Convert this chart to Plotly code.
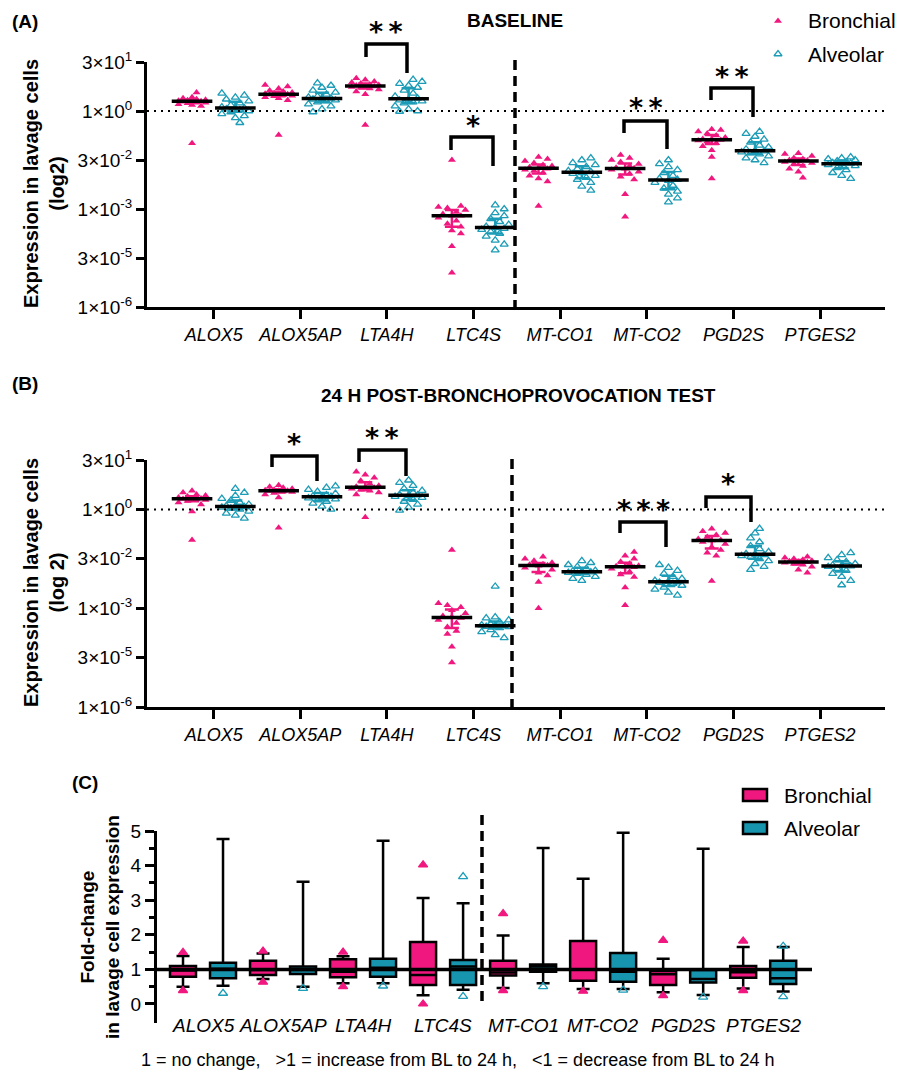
import numpy as np
import plotly.graph_objects as go

PAGE_W, PAGE_H = 904, 1071
OFF = 8  # page body margin in the browser
W, H = PAGE_W - OFF, PAGE_H - OFF
GENES = ["ALOX5", "ALOX5AP", "LTA4H", "LTC4S", "MT-CO1", "MT-CO2", "PGD2S", "PTGES2"]
LOG_TICK_EXP2 = [5, 0, -5, -10, -15, -20]
LOG_TICK_TEXT = ["3×10<sup>1</sup>", "1×10<sup>0</sup>", "3×10<sup>-2</sup>",
                 "1×10<sup>-3</sup>", "3×10<sup>-5</sup>", "1×10<sup>-6</sup>"]

# Expression values, stored as log2 exponents (value = 2**x), one list per gene
A_BRONCHIAL = [
    [-3.3, 0.5, 0.6, 0.7, 0.8, 0.85, 0.9, 0.95, 1.0, 1.0, 1.05, 1.1, 1.15, 1.2, 1.3, 1.4, 1.9],
    [-2.45, 1.1, 1.3, 1.4, 1.5, 1.55, 1.6, 1.65, 1.7, 1.7, 1.75, 1.8, 1.9, 2.0, 2.1, 2.3, 2.5, 2.65],
    [-1.43, 1.7, 2.0, 2.2, 2.3, 2.4, 2.45, 2.5, 2.55, 2.6, 2.65, 2.7, 2.8, 2.9, 3.0, 3.2, 3.35],
    [-16.5, -13.8, -12.5, -12.2, -11.8, -11.5, -11.2, -10.9, -10.7, -10.7, -10.5, -10.3, -10.1, -9.9, -9.8, -9.7, -5.0],
    [-9.7, -7.2, -6.9, -6.6, -6.3, -6.1, -6.0, -5.9, -5.8, -5.75, -5.6, -5.5, -5.3, -5.1, -4.9, -4.7],
    [-10.8, -8.5, -7.0, -6.7, -6.4, -6.2, -6.0, -5.9, -5.85, -5.8, -5.6, -5.4, -5.2, -5.0, -4.8, -4.5],
    [-6.9, -4.7, -4.0, -3.6, -3.3, -3.1, -3.0, -2.95, -2.9, -2.85, -2.7, -2.5, -2.3, -2.1, -1.95, -1.85],
    [-6.8, -6.2, -5.9, -5.6, -5.4, -5.3, -5.2, -5.1, -5.05, -5.0, -4.9, -4.8, -4.6, -4.4, -4.3],
]
A_ALVEOLAR = [
    [-1.2, -0.7, -0.5, -0.3, -0.1, 0.0, 0.1, 0.2, 0.3, 0.3, 0.4, 0.6, 0.8, 1.0, 1.2, 1.4, 1.6, 1.8],
    [-0.1, 0.2, 0.5, 0.7, 0.9, 1.0, 1.1, 1.2, 1.25, 1.3, 1.4, 1.5, 1.7, 1.9, 2.1, 2.4, 2.6, 2.85],
    [-0.05, 0.0, 0.2, 0.5, 0.8, 0.9, 1.0, 1.1, 1.2, 1.3, 1.5, 1.8, 2.1, 2.4, 2.6, 2.8, 3.0, 3.2],
    [-14.2, -13.6, -13.2, -12.8, -12.5, -12.3, -12.1, -12.0, -11.9, -11.8, -11.6, -11.3, -11.0, -10.7, -10.4, -10.0, -9.6],
    [-8.1, -7.7, -7.3, -7.0, -6.8, -6.6, -6.4, -6.3, -6.2, -6.1, -5.9, -5.7, -5.5, -5.3, -5.0, -4.8],
    [-9.3, -8.9, -8.5, -8.2, -7.9, -7.6, -7.3, -7.1, -7.0, -6.9, -6.6, -6.3, -6.0, -5.7, -5.4, -5.0],
    [-5.3, -5.0, -4.8, -4.6, -4.4, -4.3, -4.2, -4.1, -4.05, -3.9, -3.7, -3.5, -3.2, -2.9, -2.6, -2.3, -2.1],
    [-6.9, -6.6, -6.3, -6.0, -5.8, -5.6, -5.5, -5.4, -5.35, -5.3, -5.2, -5.1, -5.0, -4.9, -4.8, -4.7],
]
B_BRONCHIAL = [
    [-3.1, -0.2, 0.5, 0.7, 0.85, 0.95, 1.0, 1.05, 1.1, 1.1, 1.2, 1.3, 1.4, 1.5, 1.7, 1.9],
    [-1.85, 1.2, 1.5, 1.65, 1.75, 1.8, 1.85, 1.9, 1.9, 1.95, 2.0, 2.1, 2.2, 2.3, 2.45],
    [-0.8, 1.5, 1.7, 1.9, 2.0, 2.1, 2.2, 2.25, 2.3, 2.4, 2.6, 2.9, 3.2, 3.5, 3.8],
    [-15.5, -13.9, -12.6, -12.3, -11.9, -11.5, -11.2, -11.0, -10.9, -10.8, -10.5, -10.2, -9.9, -9.7, -9.5, -4.1],
    [-10.0, -7.35, -6.7, -6.4, -6.1, -5.9, -5.7, -5.65, -5.6, -5.55, -5.4, -5.2, -5.0, -4.8],
    [-9.7, -7.9, -6.85, -6.6, -6.3, -6.0, -5.85, -5.8, -5.75, -5.7, -5.5, -5.3, -5.0, -4.7, -4.3],
    [-7.25, -4.7, -4.4, -4.1, -3.8, -3.5, -3.3, -3.15, -3.1, -3.0, -2.8, -2.6, -2.4, -2.2, -1.95],
    [-6.4, -6.1, -5.8, -5.6, -5.5, -5.4, -5.35, -5.3, -5.25, -5.2, -5.1, -5.0, -4.9, -4.8],
]
B_ALVEOLAR = [
    [-0.9, -0.6, -0.4, -0.2, 0.0, 0.1, 0.2, 0.25, 0.3, 0.35, 0.5, 0.7, 0.9, 1.1, 1.4, 1.7, 2.1],
    [0.0, 0.3, 0.6, 0.8, 0.95, 1.05, 1.15, 1.25, 1.3, 1.35, 1.45, 1.6, 1.8, 2.0, 2.2, 2.35],
    [-0.1, 0.2, 0.5, 0.8, 1.0, 1.2, 1.3, 1.4, 1.45, 1.5, 1.7, 1.9, 2.1, 2.4, 2.7, 2.95],
    [-13.0, -12.7, -12.4, -12.2, -12.0, -11.9, -11.85, -11.8, -11.75, -11.7, -11.6, -11.4, -11.2, -11.0, -10.9, -7.8],
    [-7.2, -7.0, -6.8, -6.6, -6.5, -6.4, -6.35, -6.3, -6.25, -6.2, -6.0, -5.8, -5.6, -5.4, -5.2],
    [-8.7, -8.4, -8.1, -7.9, -7.7, -7.5, -7.4, -7.35, -7.3, -7.2, -7.0, -6.8, -6.5, -6.2, -5.9, -5.6],
    [-6.1, -5.8, -5.5, -5.2, -5.0, -4.8, -4.7, -4.6, -4.55, -4.5, -4.3, -4.0, -3.7, -3.3, -2.9, -2.4, -1.95],
    [-7.65, -7.2, -6.8, -6.5, -6.2, -6.0, -5.8, -5.75, -5.7, -5.65, -5.5, -5.3, -5.1, -4.9, -4.6, -4.4],
]

# Panel C fold-change box statistics
C_BRON_Q1 = [0.79, 0.84, 0.77, 0.55, 0.82, 0.67, 0.55, 0.76]
C_BRON_MED = [0.97, 0.98, 0.93, 0.84, 0.91, 1.00, 0.86, 0.92]
C_BRON_Q3 = [1.10, 1.25, 1.29, 1.79, 1.25, 1.82, 0.95, 1.10]
C_BRON_LO = [0.50, 0.72, 0.60, 0.25, 0.46, 0.43, 0.34, 0.45]
C_BRON_HI = [1.39, 1.46, 1.38, 3.06, 1.98, 3.62, 1.31, 1.65]
C_BRON_OUT = [[1.49, 0.39], [1.53, 0.63], [1.50, 0.50], [4.02, 0.0], [2.61, 0.39], [0.37], [1.84, 0.24], [1.82, 0.39]]
C_ALV_Q1 = [0.74, 0.87, 0.79, 0.55, 0.93, 0.64, 0.62, 0.58]
C_ALV_MED = [1.02, 0.98, 1.05, 1.08, 1.08, 0.93, 0.72, 0.74]
C_ALV_Q3 = [1.19, 1.08, 1.31, 1.27, 1.14, 1.47, 0.98, 1.25]
C_ALV_LO = [0.53, 0.50, 0.60, 0.41, 0.60, 0.43, 0.26, 0.36]
C_ALV_HI = [4.77, 3.53, 4.72, 2.91, 4.51, 4.95, 4.49, 1.65]
C_ALV_OUT = [[0.31], [0.45], [0.52], [3.68, 0.22], [0.50], [0.40], [0.20], [1.67, 0.21]]

PINK = "#F0187F"
TEAL = "#1C9CB6"
TEAL_BOX = "#1895AE"
FONT = "Liberation Sans, Arial, sans-serif"


def fx(p):
    return (p - OFF) / W


def fy(p):
    return 1 - (p - OFF) / H


fig = go.Figure()

LOG_RANGE = [-20 * np.log10(2), 5 * np.log10(2)]
PANELS = [
    ("x", "y", A_BRONCHIAL, A_ALVEOLAR, (62, 307)),
    ("x2", "y2", B_BRONCHIAL, B_ALVEOLAR, (460, 707)),
]
X_RANGE_AB = [-1.04, 16.0]
PX_PER_X = (885 - 147) / (X_RANGE_AB[1] - X_RANGE_AB[0])


def swarm(vals, py_unit, d=6.0, step=4.5, maxoff=15.0):
    vals = np.asarray(vals, float)
    med = np.median(vals)
    order = np.argsort(np.abs(vals - med), kind="stable")
    cands = [0.0]
    k = 1
    while k * step <= maxoff:
        cands += [k * step, -k * step]
        k += 1
    placed = []
    offs = np.zeros(len(vals))
    for i in order:
        y = vals[i] * py_unit
        best, bestd = 0.0, -1
        for c in cands:
            md = min([np.hypot(c - a, y - b) for a, b in placed], default=1e9)
            if md >= d:
                best = c
                break
            if md > bestd:
                bestd, best = md, c
        placed.append((best, y))
        offs[i] = best / PX_PER_X
    return offs


for xa, ya, bron, alv, (ptop, pbot) in PANELS:
    py_unit = (pbot - ptop) / 25.0
    for series, color, sym, msize, lw in [(bron, PINK, "triangle-up", 7, 0),
                                          (alv, TEAL, "triangle-up-open", 7, 1.3)]:
        base = 0 if series is bron else 1
        for gi, vals in enumerate(series):
            g = 2 * gi + base
            offs = swarm(vals, py_unit)
            fig.add_trace(go.Scatter(
                x=(g + offs).tolist(), y=[2.0 ** v for v in vals], mode="markers",
                marker=dict(symbol=sym, size=msize, color=color,
                            line=dict(width=lw, color=color)),
                xaxis=xa, yaxis=ya, showlegend=False, hoverinfo="skip"))
            q1, med, q3 = np.percentile(vals, [25, 50, 75])
            fig.add_trace(go.Scatter(
                x=[g], y=[2.0 ** med], mode="markers",
                marker=dict(size=1, color="rgba(0,0,0,0)"),
                error_y=dict(type="data", symmetric=False,
                             array=[2.0 ** q3 - 2.0 ** med],
                             arrayminus=[2.0 ** med - 2.0 ** q1],
                             color=color, thickness=2.5, width=7),
                xaxis=xa, yaxis=ya, showlegend=False, hoverinfo="skip"))
            fig.add_trace(go.Scatter(
                x=[g], y=[2.0 ** med], mode="markers",
                marker=dict(symbol="line-ew", size=29,
                            line=dict(width=3.5, color="black")),
                xaxis=xa, yaxis=ya, showlegend=False, hoverinfo="skip"))

# Panel C boxes
C_POS_B = [2 * i for i in range(8)]
C_POS_A = [2 * i + 1 for i in range(8)]
for pos, q1, med, q3, lo, hi, out, fill, col, sym in [
    (C_POS_B, C_BRON_Q1, C_BRON_MED, C_BRON_Q3, C_BRON_LO, C_BRON_HI, C_BRON_OUT, PINK, PINK, "triangle-up"),
    (C_POS_A, C_ALV_Q1, C_ALV_MED, C_ALV_Q3, C_ALV_LO, C_ALV_HI, C_ALV_OUT, TEAL_BOX, TEAL, "triangle-up-open"),
]:
    fig.add_trace(go.Box(
        x=pos, q1=q1, median=med, q3=q3, lowerfence=lo, upperfence=hi,
        fillcolor=fill, line=dict(color="black", width=2.5), width=0.65,
        whiskerwidth=0.5, boxpoints=False, xaxis="x3", yaxis="y3",
        showlegend=False, hoverinfo="skip"))
    ox, oy = [], []
    for p, o in zip(pos, out):
        ox += [p] * len(o)
        oy += o
    fig.add_trace(go.Scatter(
        x=ox, y=oy, mode="markers", cliponaxis=False,
        marker=dict(symbol=sym, size=8, color=col, line=dict(width=1.3, color=col)),
        xaxis="x3", yaxis="y3", showlegend=False, hoverinfo="skip"))

# legend markers for panels A/B (small pixel-based subplot in the top-right corner)
fig.add_trace(go.Scatter(x=[778, 778], y=[PAGE_H - 21, PAGE_H - 54], mode="markers",
                         marker=dict(symbol=["triangle-up", "triangle-up-open"], size=7,
                                     color=[PINK, TEAL], line=dict(width=[0, 1.3], color=[PINK, TEAL])),
                         xaxis="x4", yaxis="y4", showlegend=False, hoverinfo="skip"))

axis_common = dict(showline=True, linewidth=3, linecolor="black", ticks="outside",
                   tickwidth=3, tickcolor="black", showgrid=False, zeroline=False,
                   mirror=False, automargin=False)
layout = dict(
    width=W, height=H, margin=dict(l=0, r=0, t=0, b=0, autoexpand=False),
    paper_bgcolor="white", plot_bgcolor="white", showlegend=False,
    font=dict(family=FONT, color="black"),
)
for xa, ya, _, _, (ptop, pbot) in PANELS:
    xk = "xaxis" + xa[1:]
    yk = "yaxis" + ya[1:]
    layout[xk] = dict(axis_common, domain=[fx(147), fx(885)], range=X_RANGE_AB,
                      tickvals=[2 * i + 0.5 for i in range(8)],
                      ticktext=["<i>%s</i>" % g for g in GENES],
                      ticklen=9, tickfont=dict(size=18), anchor=ya)
    layout[yk] = dict(axis_common, type="log", domain=[fy(pbot), fy(ptop)], range=LOG_RANGE,
                      tickvals=[2.0 ** e for e in LOG_TICK_EXP2], ticktext=LOG_TICK_TEXT,
                      ticklen=8, tickfont=dict(size=19), anchor=xa)
layout["xaxis3"] = dict(domain=[fx(157), fx(812)], range=[-0.65, 15.72], visible=False,
                        anchor="y3", automargin=False)
layout["yaxis3"] = dict(axis_common, domain=[fy(1023), fy(831)], range=[-0.55, 5],
                        tickvals=[0, 1, 2, 3, 4, 5], ticklen=9, tickfont=dict(size=19),
                        minor=dict(tickvals=[0.5, 1.5, 2.5, 3.5, 4.5], ticklen=5,
                                   tickwidth=3, tickcolor="black", ticks="outside"),
                        anchor="x3")
layout["xaxis4"] = dict(domain=[fx(768), fx(790)], range=[768, 790], visible=False,
                        anchor="y4", automargin=False)
layout["yaxis4"] = dict(domain=[fy(64), fy(10)], range=[PAGE_H - 64, PAGE_H - 10], visible=False,
                        anchor="x4", automargin=False)
fig.update_layout(**layout)


def log_paper(v, ptop, pbot):
    frac = (np.log10(v) - LOG_RANGE[0]) / (LOG_RANGE[1] - LOG_RANGE[0])
    return float(fy(pbot) + frac * (fy(ptop) - fy(pbot)))


shapes = []
for _, _, _, _, (ptop, pbot) in PANELS:
    yy = log_paper(1.0, ptop, pbot)
    shapes.append(dict(type="line", xref="paper", yref="paper", x0=fx(147), x1=fx(885),
                       y0=yy, y1=yy, line=dict(color="black", width=2, dash="2px,5px")))
shapes.append(dict(type="line", xref="paper", yref="paper", x0=fx(515), x1=fx(515),
                   y0=fy(60), y1=fy(312), line=dict(color="black", width=3.5, dash="10px,6px")))
shapes.append(dict(type="line", xref="paper", yref="paper", x0=fx(512), x1=fx(512),
                   y0=fy(459), y1=fy(707), line=dict(color="black", width=3.5, dash="10px,6px")))
shapes.append(dict(type="line", xref="paper", yref="paper", x0=fx(482), x1=fx(482),
                   y0=fy(815), y1=fy(1002), line=dict(color="black", width=3.5, dash="10px,6px")))
shapes.append(dict(type="line", xref="paper", yref="y3", x0=fx(157), x1=fx(812), y0=1, y1=1,
                   line=dict(color="black", width=3.5), layer="above"))

BRACKETS = [(366, 407, 44, 57, 73), (451, 493, 137, 150, 166), (624, 667, 121, 133, 149),
            (711, 753, 88, 100, 117),
            (272, 317, 456, 467, 481), (359, 406, 450, 462, 476), (620, 666, 522, 533, 547),
            (706, 751, 497, 508, 522)]
for l, r, t, bl, br in BRACKETS:
    path = "M %f %f L %f %f L %f %f L %f %f" % (fx(l), fy(bl), fx(l), fy(t), fx(r), fy(t), fx(r), fy(br))
    shapes.append(dict(type="path", xref="paper", yref="paper", path=path,
                       line=dict(color="black", width=3.5)))

for yc, col in [(795, PINK), (828, TEAL_BOX)]:
    shapes.append(dict(type="rect", xref="paper", yref="paper", x0=fx(743), x1=fx(767),
                       y0=fy(yc + 6), y1=fy(yc - 6), fillcolor=col,
                       line=dict(color="black", width=2.5)))
fig.update_layout(shapes=shapes)

ann = []


def text(t, x, y, size, bold=False, italic=False, xanchor="center", angle=0, family=FONT):
    if bold:
        t = "<b>%s</b>" % t
    if italic:
        t = "<i>%s</i>" % t
    ann.append(dict(text=t, x=fx(x), y=fy(y), xref="paper", yref="paper", showarrow=False,
                    xanchor=xanchor, yanchor="middle", textangle=angle,
                    font=dict(size=size, family=family, color="black")))


text("(A)", 10, 22, 19, bold=True, xanchor="left")
text("(B)", 10, 383, 19, bold=True, xanchor="left")
text("(C)", 70, 782, 19, bold=True, xanchor="left")
text("BASELINE", 515, 21, 19, bold=True)
text("24 H POST-BRONCHOPROVOCATION TEST", 518, 395, 19, bold=True)
text("Expression in lavage cells<br>(log2)", 44, 184, 20, bold=True, angle=-90)
text("Expression in lavage cells<br>(log 2)", 44, 583, 20, bold=True, angle=-90)
text("Fold-change<br>in lavage cell expression", 100, 927, 19, bold=True, angle=-90)
text("Bronchial", 806, 21, 21, xanchor="left")
text("Alveolar", 806, 54, 21, xanchor="left")
text("Bronchial", 782, 795, 21, xanchor="left")
text("Alveolar", 782, 828, 21, xanchor="left")
text("1 = no change,\u00a0\u00a0\u00a0>1 = increase from BL to 24 h,\u00a0\u00a0\u00a0<1 = decrease from BL to 24 h",
     458, 1060, 18)

STARS = [("**", 386, 25), ("*", 473, 118), ("**", 646, 101), ("**", 732, 69),
         ("*", 294, 437), ("**", 382, 431), ("***", 643, 502), ("*", 728, 477)]
for s, x, y in STARS:
    text("\u2009".join(s), x, y + 7, 27, bold=True, family="DejaVu Sans")

for i, g in enumerate(GENES):
    ann.append(dict(text="<i>%s</i>" % g, x=2 * i + 0.5, y=fy(1025), xref="x3", yref="paper",
                    showarrow=False, xanchor="center", yanchor="middle",
                    font=dict(size=19, family=FONT, color="black")))

fig.update_layout(annotations=ann)
fig.write_html("out.html")
